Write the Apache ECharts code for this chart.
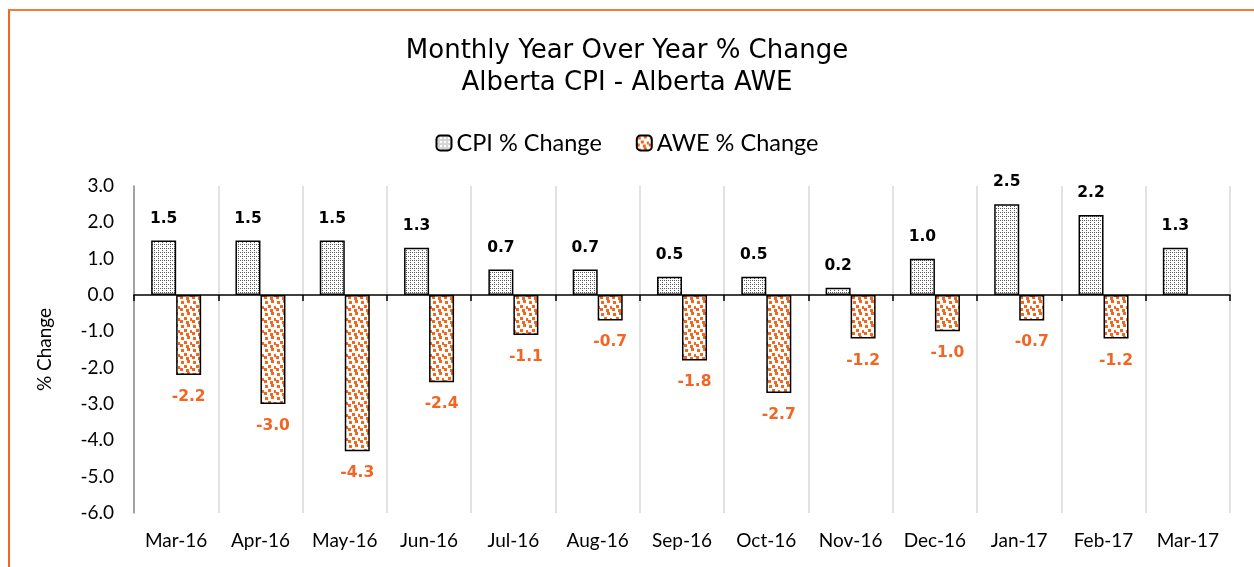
<!DOCTYPE html>
<html lang="en">
<head>
  <meta charset="UTF-8">
  <title>Alberta CPI - AWE</title>
  <script src="https://cdn.jsdelivr.net/npm/echarts@6/dist/echarts.min.js"></script>
  <style>
    * { margin: 0; padding: 0; }
    body { background: #fff; }
    #chart { width: 1254px; height: 567px; }
    .frame {
      position: absolute; left: 8px; top: 9px; width: 1400px; height: 700px;
      border-top: 2px solid #f47b3c; border-left: 2px solid #f26522;
      pointer-events: none;
    }
  </style>
</head>
<body>
  <div id="chart"></div>
  <div class="frame"></div>
<script>
  // months
  var months = ['Mar-16', 'Apr-16', 'May-16', 'Jun-16', 'Jul-16', 'Aug-16', 'Sep-16',
    'Oct-16', 'Nov-16', 'Dec-16', 'Jan-17', 'Feb-17', 'Mar-17'];
  // CPI % change
  var cpi = [1.5, 1.5, 1.5, 1.3, 0.7, 0.7, 0.5, 0.5, 0.2, 1.0, 2.5, 2.2, 1.3];
  // AWE % change (no value for Mar-17)
  var awe = [-2.2, -3.0, -4.3, -2.4, -1.1, -0.7, -1.8, -2.7, -1.2, -1.0, -0.7, -1.2, null];

  var orange = '#f26522';

  // fill patterns like the excel ones
  function makePattern(size, color, dots) {
    var c = document.createElement('canvas');
    c.width = size; c.height = size;
    var ctx = c.getContext('2d');
    ctx.fillStyle = '#fff';
    ctx.fillRect(0, 0, size, size);
    ctx.fillStyle = color;
    dots.forEach(function (d) { ctx.fillRect(d[0], d[1], d[2], d[2]); });
    return c;
  }
  var dotted = makePattern(4, '#5a5a5a', [[0, 0, 1], [2, 2, 1], [2, 0, 1]]);
  var confetti = makePattern(12, '#f4661b', [[1, 1, 3], [7, 0, 3], [4, 5, 3], [10, 6, 3], [0, 8, 3], [6, 9, 3]]);

  var myChart = echarts.init(document.getElementById('chart'));

  var option = {
    animation: false,
    title: {
      text: 'Monthly Year Over Year % Change\nAlberta CPI - Alberta AWE',
      left: 'center',
      top: 30,
      textStyle: {
        fontFamily: 'DejaVu Sans',
        fontWeight: 'normal',
        fontSize: 26,
        lineHeight: 32,
        color: '#000'
      }
    },
    legend: {
      top: 126,
      left: 'center',
      itemWidth: 15,
      itemHeight: 15,
      itemGap: 34,
      textStyle: { fontFamily: 'Lato', fontSize: 23.5, color: '#000' },
      data: ['CPI % Change', 'AWE % Change']
    },
    grid: { left: 134, right: 24, top: 186, bottom: 54 },
    xAxis: [{
      type: 'category',
      data: months,
      position: 'bottom',
      axisLine: { show: false, onZero: false },
      axisTick: { show: false },
      axisLabel: { interval: 0, fontFamily: 'Lato', fontSize: 19, color: '#000', margin: 18 },
      splitLine: { show: true, interval: 0, lineStyle: { color: '#d9d9d9', width: 1.5 } }
    }, {
      type: 'category',
      data: months,
      position: 'bottom',
      axisLine: { show: true, onZero: true, lineStyle: { color: '#000', width: 1.5 } },
      axisTick: { show: true, interval: 0, length: 6, lineStyle: { color: '#000', width: 1.5 } },
      axisLabel: { show: false },
      splitLine: { show: false }
    }],
    yAxis: {
      type: 'value',
      min: -6,
      max: 3,
      interval: 1,
      name: '% Change',
      nameLocation: 'middle',
      nameGap: 80,
      nameTextStyle: { fontFamily: 'Lato', fontSize: 19, color: '#000' },
      axisLine: { show: true, lineStyle: { color: '#8c8c8c', width: 1.5 } },
      axisTick: { show: false },
      splitLine: { show: false },
      axisLabel: {
        fontFamily: 'Lato', fontSize: 19, color: '#000', margin: 20,
        formatter: function (v) { return v.toFixed(1); }
      }
    },
    series: [{
      name: 'CPI % Change',
      type: 'bar',
      data: cpi,
      barWidth: 25,
      barGap: '0%',
      itemStyle: {
        color: { image: dotted, repeat: 'repeat' },
        borderColor: '#000',
        borderWidth: 1.5
      },
      label: {
        show: true,
        position: 'top',
        distance: 14,
        fontFamily: 'DejaVu Sans',
        fontWeight: 'bold',
        fontSize: 15.5,
        color: '#000',
        formatter: function (p) { return p.value.toFixed(1); }
      }
    }, {
      name: 'AWE % Change',
      type: 'bar',
      data: awe,
      barWidth: 25,
      itemStyle: {
        color: { image: confetti, repeat: 'repeat' },
        borderColor: '#000',
        borderWidth: 1.5
      },
      label: {
        show: true,
        position: 'bottom',
        distance: 14,
        fontFamily: 'DejaVu Sans',
        fontWeight: 'bold',
        fontSize: 15.5,
        color: orange,
        formatter: function (p) { return p.value.toFixed(1); }
      }
    }]
  };

  myChart.setOption(option);
</script>
</body>
</html>
